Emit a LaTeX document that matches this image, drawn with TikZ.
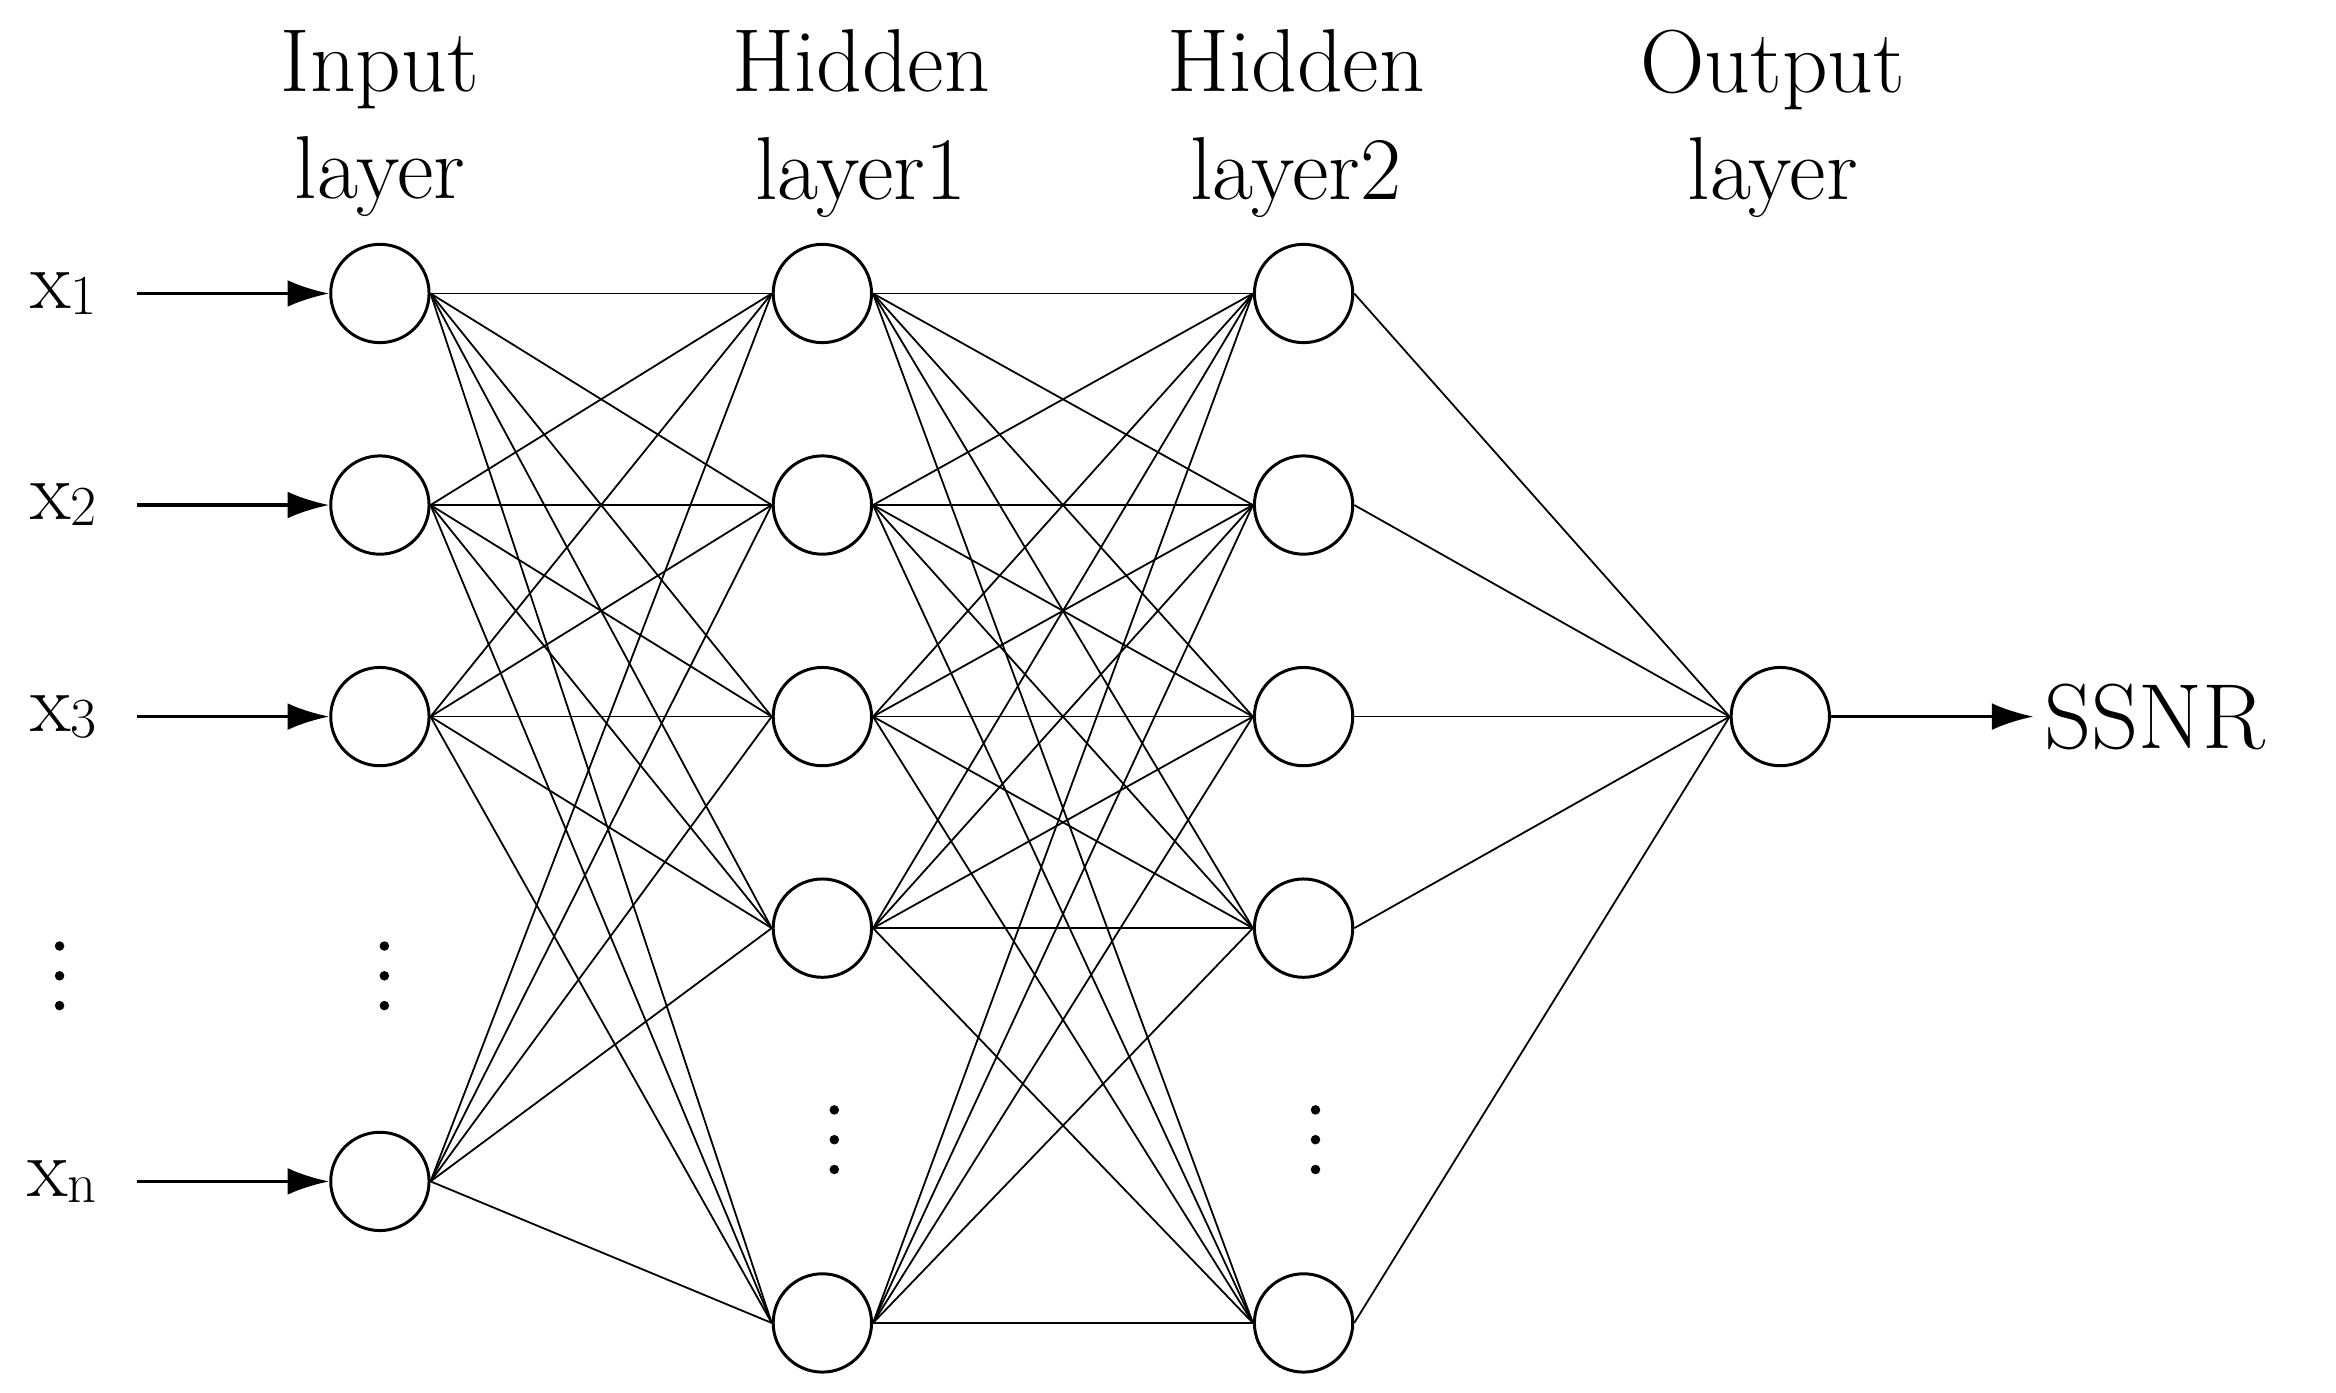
\documentclass[tikz,border=0pt]{standalone}
\usetikzlibrary{arrows.meta}
\begin{document}
\begin{tikzpicture}[x=0.5pt,y=-0.5pt,
  neuron/.style={circle,draw,line width=1pt,minimum size=33pt,inner sep=0pt},
  conn/.style={line width=0.6pt},
  inarr/.style={line width=1.2pt,-{Latex[length=14pt,width=9pt]}},
  title/.style={font=\fontsize{30}{36}\selectfont,align=center},
  lab/.style={font=\fontsize{28}{30}\selectfont},
  dot/.style={circle,fill,inner sep=0pt,minimum size=3.2pt}]
\useasboundingbox (0,0) rectangle (1568,935);
\node[title] (t1) at (255,83) {Input\\layer};
\node[title] (t2) at (578,83) {Hidden\\layer1};
\node[title] (t3) at (870,83) {Hidden\\layer2};
\node[title] (t4) at (1190,83) {Output\\layer};
\foreach \i/\y in {1/197,2/339,3/481,4/793} \node[neuron] (i\i) at (255,\y) {};
\foreach \i/\y in {1/197,2/339,3/481,4/623,5/888} {
  \node[neuron] (a\i) at (552,\y) {};
  \node[neuron] (b\i) at (875,\y) {};}
\node[neuron] (o) at (1195,481) {};
\foreach \i in {1,2,3,4} \foreach \j in {1,...,5} \draw[conn] (i\i.east) -- (a\j.west);
\foreach \i in {1,...,5} \foreach \j in {1,...,5} \draw[conn] (a\i.east) -- (b\j.west);
\foreach \i in {1,...,5} \draw[conn] (b\i.east) -- (o.west);
\foreach \i/\y/\t in {1/197/1,2/339/2,3/481/3,4/793/n} {
  \node[lab,anchor=east] (x\i) at (72,\y) {x\raisebox{-2pt}{\fontsize{19}{19}\selectfont\t}};
  \coordinate (s\i) at (92,\y);
  \draw[inarr] (s\i) -- (i\i.west);}
\node[lab,anchor=west,font=\fontsize{31}{33}\selectfont] (ssnr) at (1365,481) {SSNR};
\draw[inarr] (o.east) -- (ssnr.west);
\foreach \x/\y in {40/655,258/655,560/765,883/765}
  \foreach \d in {-20,0,20} \node[dot] at (\x,\y+\d) {};
\end{tikzpicture}
\end{document}
